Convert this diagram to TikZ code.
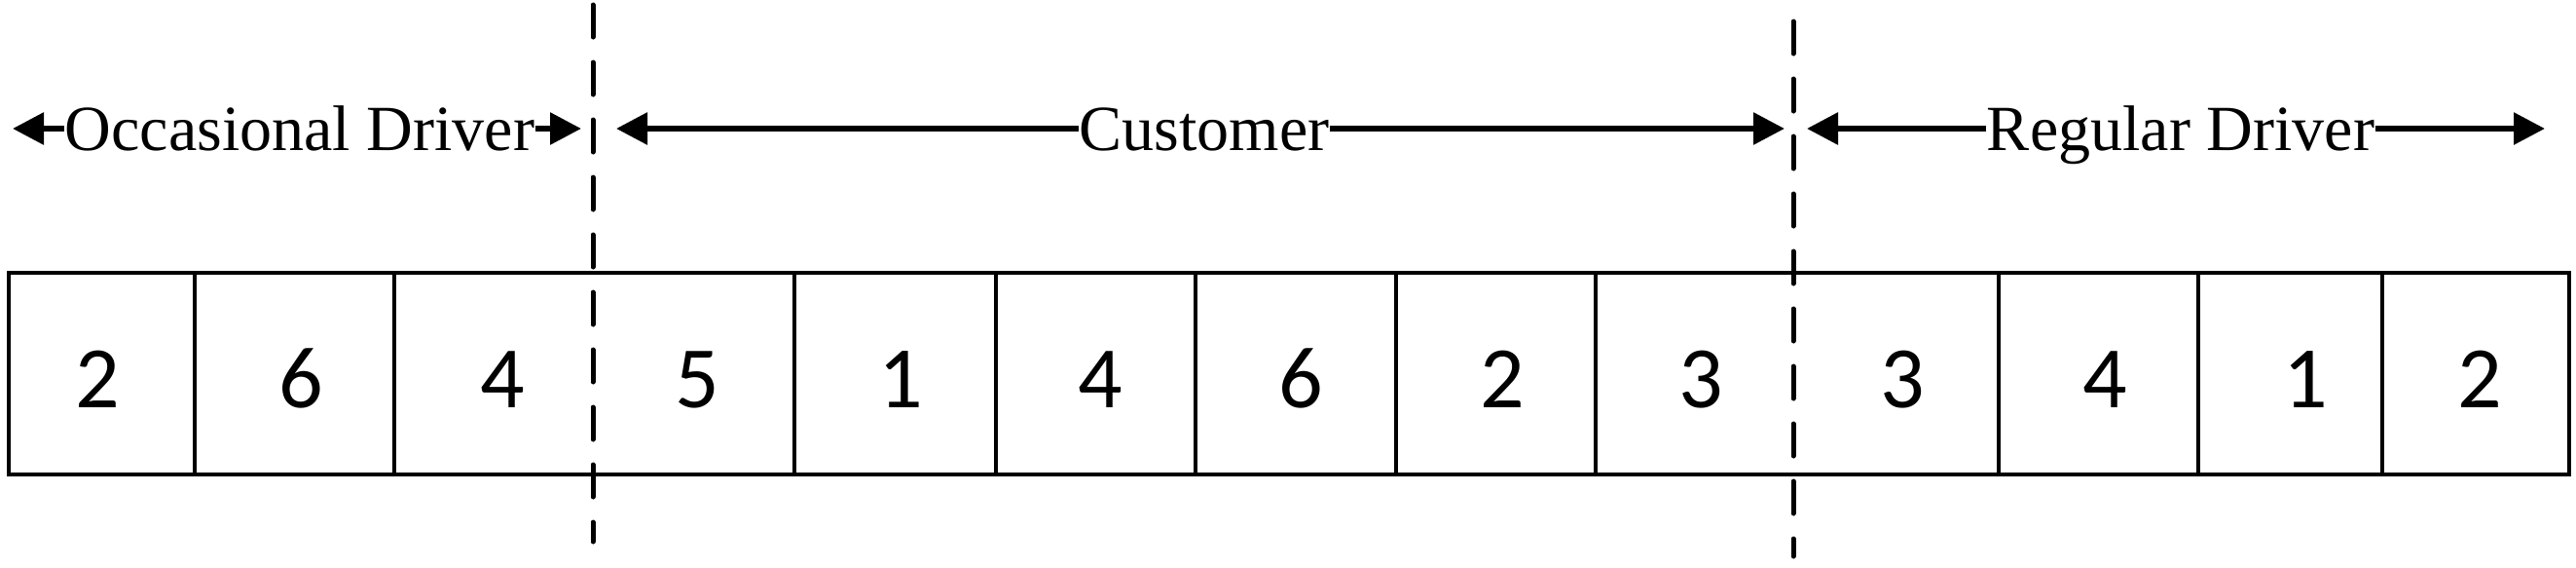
\documentclass[tikz,border=0pt]{standalone}
\usepackage{fontspec}
\setmainfont{Liberation Serif}
\newfontfamily\digitfont{Carlito}
\usetikzlibrary{arrows.meta}
\tikzset{
  cellnum/.style={anchor=base, inner sep=0pt, font=\digitfont\fontsize{25.6}{30}\selectfont},
  seglabel/.style={inner sep=0pt, text height=0.44cm, text depth=0cm, font=\fontsize{18.8}{22}\selectfont},
  segarrow/.style={line width=0.06cm, -{Triangle[length=0.32cm, width=0.32cm]}},
  cutline/.style={line width=0.05cm, line cap=round, dash pattern=on 0.33cm off 0.26cm},
  cellline/.style={line width=0.04cm}
}

\begin{document}
\begin{tikzpicture}
    \useasboundingbox (0,0) rectangle (26.46,5.82);
    % chromosome
    \draw[cellline] (0.09,0.95) rectangle (26.39,3.02);
    \foreach \x in {2.00,4.05,8.16,10.23,12.28,14.34,16.39,20.53,22.58,24.47}
        \draw[cellline] (\x,0.93) -- (\x,3.02);
    \foreach \x/\v [count=\i] in {1.00/2, 3.09/6, 5.16/4, 7.16/5, 9.25/1, 11.30/4, 13.36/6,
                                  15.43/2, 17.47/3, 19.54/3, 21.62/4, 23.68/1, 25.47/2}
        \node[cellnum] (g\i) at (\x,1.64) {\v};
    % cut points
    \coordinate (cutAtop) at (6.09,5.77);
    \coordinate (cutAbot) at (6.09,0.26);
    \coordinate (cutBtop) at (18.42,5.60);
    \coordinate (cutBbot) at (18.42,0.11);
    \draw[cutline] (cutAtop) -- (cutAbot);
    \draw[cutline] (cutBtop) -- (cutBbot);
    % segments
    \node[seglabel] (occ) at (3.08,4.50) {Occasional Driver};
    \coordinate (occL) at (0.13,4.50);
    \coordinate (occR) at (5.97,4.50);
    \draw[segarrow] (occ.west) -- (occL);
    \draw[segarrow] (occ.east) -- (occR);
    \node[seglabel] (cus) at (12.37,4.50) {Customer};
    \coordinate (cusL) at (6.33,4.50);
    \coordinate (cusR) at (18.33,4.50);
    \draw[segarrow] (cus.west) -- (cusL);
    \draw[segarrow] (cus.east) -- (cusR);
    \node[seglabel] (reg) at (22.40,4.50) {Regular Driver};
    \coordinate (regL) at (18.56,4.50);
    \coordinate (regR) at (26.14,4.50);
    \draw[segarrow] (reg.west) -- (regL);
    \draw[segarrow] (reg.east) -- (regR);
\end{tikzpicture}
\end{document}
